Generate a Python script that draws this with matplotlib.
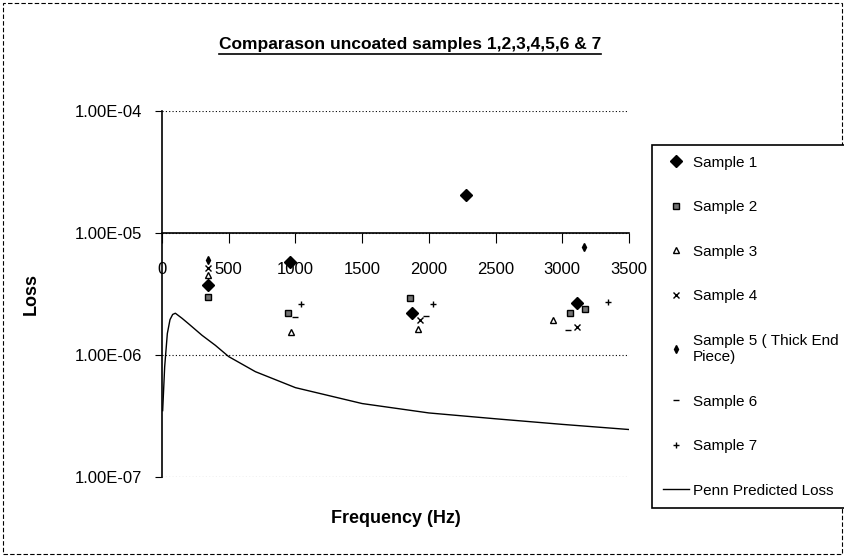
import numpy as np
import matplotlib
matplotlib.use("Agg")
import matplotlib.pyplot as plt
from matplotlib.ticker import FixedLocator, FuncFormatter, NullLocator
from matplotlib.lines import Line2D
from matplotlib.patches import Rectangle

plt.rcParams['font.family'] = ['Liberation Sans', 'DejaVu Sans']

# measured loss per sample (frequency in Hz)
s1_freq = [345, 960, 1875, 2280, 3110]
s1_loss = [3.75e-6, 5.8e-6, 2.2e-6, 2.05e-5, 2.67e-6]
s2_freq = [345, 944, 1860, 3058, 3170]
s2_loss = [3.0e-6, 2.2e-6, 2.93e-6, 2.2e-6, 2.4e-6]
s3_freq = [345, 967, 1918, 2932]
s3_loss = [4.5e-6, 1.55e-6, 1.63e-6, 1.94e-6]
s4_freq = [345, 1934, 3110]
s4_loss = [5.2e-6, 1.94e-6, 1.7e-6]
s5_freq = [345, 3163]
s5_loss = [6.0e-6, 7.7e-6]
s6_freq = [997, 1980, 3043]
s6_loss = [2.05e-6, 2.1e-6, 1.6e-6]
s7_freq = [1042, 2031, 3343]
s7_loss = [2.6e-6, 2.6e-6, 2.7e-6]

# Penn predicted loss curve
penn_freq = [5, 20, 40, 60, 80, 100, 150, 200, 300, 400, 500, 700, 1000,
             1500, 2000, 2500, 3000, 3500]
penn_loss = [3.5e-7, 8e-7, 1.5e-6, 1.95e-6, 2.15e-6, 2.2e-6, 2.0e-6, 1.8e-6,
             1.45e-6, 1.2e-6, 9.7e-7, 7.3e-7, 5.4e-7, 4.0e-7, 3.35e-7,
             3.0e-7, 2.7e-7, 2.45e-7]

x_ticks = [0, 500, 1000, 1500, 2000, 2500, 3000, 3500]
y_ticks = [1e-7, 1e-6, 1e-5, 1e-4]

W, H = 845, 556
fig = plt.figure(figsize=(W / 100, H / 100), dpi=100)
ax = fig.add_axes([162 / W, 1 - 477 / H, 467 / W, 366 / H])
ax.set_yscale('log')
ax.set_xlim(0, 3500)
ax.set_ylim(1e-7, 1e-4)

ax.plot(s1_freq, s1_loss, 'D', color='black', markersize=6, label='Sample 1')
ax.plot(s2_freq, s2_loss, 's', mfc='0.45', mec='black', markersize=5, label='Sample 2')
ax.plot(s3_freq, s3_loss, '^', mfc='white', mec='black', markersize=4, label='Sample 3')
ax.plot(s4_freq, s4_loss, 'x', color='black', markersize=4, label='Sample 4')
ax.plot(s5_freq, s5_loss, 'd', color='black', markersize=4, label='Sample 5 ( Thick End\nPiece)')
ax.plot(s6_freq, s6_loss, '_', color='black', markersize=5, label='Sample 6')
ax.plot(s7_freq, s7_loss, '+', color='black', markersize=5, label='Sample 7')
ax.plot(penn_freq, penn_loss, '-', color='black', lw=1, label='Penn Predicted Loss')

ax.spines['top'].set_visible(False)
ax.spines['right'].set_visible(False)
ax.spines['bottom'].set_position(('data', 1e-5))
ax.spines['left'].set_linewidth(1.2)
ax.spines['bottom'].set_linewidth(1.2)

ax.xaxis.set_major_locator(FixedLocator(x_ticks))
ax.yaxis.set_major_locator(FixedLocator(y_ticks))
ax.yaxis.set_minor_locator(NullLocator())
ax.yaxis.set_major_formatter(FuncFormatter(lambda v, p: f"{v:.2E}"))
ax.tick_params(axis='x', direction='out', length=7, pad=14, labelsize=12)
ax.tick_params(axis='y', direction='out', length=5, pad=9, labelsize=12)
ax.yaxis.grid(True, linestyle=(0, (1, 2)), color='black', lw=0.8)

ax.set_xlabel('Frequency (Hz)', fontsize=13, fontweight='bold')
ax.xaxis.set_label_coords(0.5, -0.09)
ax.set_ylabel('Loss', fontsize=13, fontweight='bold')
ax.yaxis.set_label_coords(-0.262, 0.5)

title = fig.text(410 / W, 1 - 44 / H, 'Comparason uncoated samples 1,2,3,4,5,6 & 7',
                 ha='center', va='center', fontsize=12.5, fontweight='bold')

leg = fig.legend(loc='upper left', bbox_to_anchor=(652 / W, 1 - 145 / H),
                 bbox_transform=fig.transFigure, frameon=True, fancybox=False,
                 edgecolor='black', framealpha=1, fontsize=11, borderpad=0.7,
                 labelspacing=2.0, handlelength=1.7, handletextpad=0.3,
                 borderaxespad=0)
leg.get_frame().set_linewidth(1.2)

# chart border
fig.patches.append(Rectangle((0.004, 0.004), 0.992, 0.99, transform=fig.transFigure,
                             fill=False, edgecolor='black', lw=0.8, linestyle=(0, (4, 2))))

# underline the title
fig.canvas.draw()
bb = title.get_window_extent()
fig.add_artist(Line2D([bb.x0 / W, bb.x1 / W], [(bb.y0 - 2) / H] * 2,
                      transform=fig.transFigure, color='black', lw=1.2))

fig.savefig('out.png', dpi=100)
